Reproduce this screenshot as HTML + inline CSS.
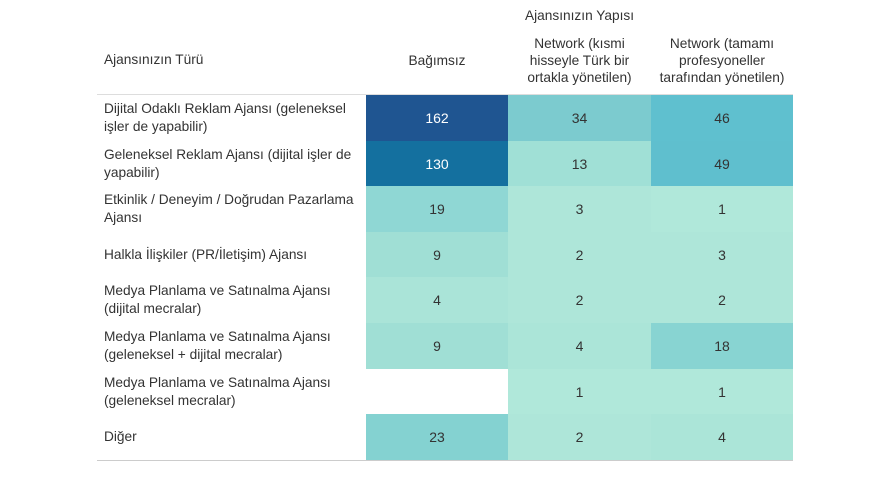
<!DOCTYPE html><html><head><style>
body{margin:0;width:886px;height:483px;background:#fff;font-family:"Liberation Sans",sans-serif;color:#333;position:relative;overflow:hidden}
.t{position:absolute;font-size:13.7px;line-height:18px}
.c{position:absolute;display:flex;align-items:center;justify-content:center;font-size:14px}
.h{position:absolute;text-align:center;font-size:13.7px;line-height:17px}
</style></head><body>
<div class="h" style="left:498px;width:163px;top:7px">Ajansınızın Yapısı</div>
<div class="t" style="left:104px;top:51px">Ajansınızın Türü</div>
<div class="h" style="left:366px;width:142px;top:52px">Bağımsız</div>
<div class="h" style="left:498px;width:163px;top:35px">Network (kısmi<br>hisseyle Türk bir<br>ortakla yönetilen)</div>
<div class="h" style="left:641px;width:162px;top:35px">Network (tamamı<br>profesyoneller<br>tarafından yönetilen)</div>
<div style="position:absolute;left:97px;top:94px;width:696px;height:1px;background:#ddd"></div>
<div style="position:absolute;left:97px;top:460px;width:696px;height:1px;background:#ccc"></div>
<div id="g"></div>
<script>
const rows=[["Dijital Odaklı Reklam Ajansı (geleneksel<br>işler de yapabilir)",[162,"#1f5591","#fff"],[34,"#7ccbcf"],[46,"#5fc0cf"]],
["Geleneksel Reklam Ajansı (dijital işler de<br>yapabilir)",[130,"#14709f","#fff"],[13,"#a0e0d6"],[49,"#5fbfce"]],
["Etkinlik / Deneyim / Doğrudan Pazarlama<br>Ajansı",[19,"#8fd7d4"],[3,"#aee6d9"],[1,"#b0e8da"]],
["Halkla İlişkiler (PR/İletişim) Ajansı",[9,"#a0dfd5"],[2,"#aee6d9"],[3,"#aee6d9"]],
["Medya Planlama ve Satınalma Ajansı<br>(dijital mecralar)",[4,"#aae4d8"],[2,"#aee6d9"],[2,"#aee6d9"]],
["Medya Planlama ve Satınalma Ajansı<br>(geleneksel + dijital mecralar)",[9,"#a0dfd5"],[4,"#abe5d8"],[18,"#88d4d2"]],
["Medya Planlama ve Satınalma Ajansı<br>(geleneksel mecralar)",null,[1,"#b0e8da"],[1,"#b0e8da"]],
["Diğer",[23,"#84d2d1"],[2,"#aee6d9"],[4,"#abe5d8"]]];
const xs=[366,508,651,793];let h="";
rows.forEach((r,i)=>{const y0=Math.round(95+i*45.6),y1=Math.round(95+(i+1)*45.6);
h+=`<div class="t" style="left:104px;top:${y0}px;height:${y1-y0}px;display:flex;align-items:center">${r[0]}</div>`;
for(let j=0;j<3;j++){const c=r[j+1];if(!c)continue;
h+=`<div class="c" style="left:${xs[j]}px;top:${y0}px;width:${xs[j+1]-xs[j]}px;height:${y1-y0}px;background:${c[1]};color:${c[2]||'#333'}">${c[0]}</div>`;}});
document.getElementById("g").innerHTML=h;
</script>
</body></html>
